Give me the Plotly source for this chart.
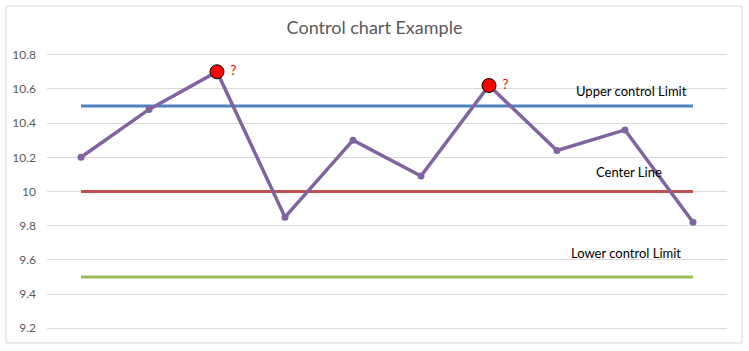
import plotly.graph_objects as go

# ---- data ----
samples = [1, 2, 3, 4, 5, 6, 7, 8, 9, 10]
values = [10.2, 10.48, 10.7, 9.85, 10.3, 10.09, 10.62, 10.24, 10.36, 9.82]
ucl_value = 10.5
center_value = 10.0
lcl_value = 9.5
y_ticks = [9.2, 9.4, 9.6, 9.8, 10.0, 10.2, 10.4, 10.6, 10.8]
y_tick_labels = ["9.2", "9.4", "9.6", "9.8", "10", "10.2", "10.4", "10.6", "10.8"]

x_idx = list(range(len(samples)))
ucl = [ucl_value] * len(samples)
cl = [center_value] * len(samples)
lcl = [lcl_value] * len(samples)
out_x = [i for i, v in zip(x_idx, values) if v > ucl_value or v < lcl_value]
out_y = [v for v in values if v > ucl_value or v < lcl_value]

FONT = "Lato, 'Open Sans', sans-serif"

fig = go.Figure()
fig.add_trace(go.Scatter(x=x_idx, y=ucl, mode="lines",
                         line=dict(color="#4F81BD", width=3), hoverinfo="skip"))
fig.add_trace(go.Scatter(x=x_idx, y=cl, mode="lines",
                         line=dict(color="#C0504D", width=3), hoverinfo="skip"))
fig.add_trace(go.Scatter(x=x_idx, y=lcl, mode="lines",
                         line=dict(color="#9BBB59", width=3), hoverinfo="skip"))
fig.add_trace(go.Scatter(x=x_idx, y=values, mode="lines+markers",
                         line=dict(color="#8064A2", width=3.5),
                         marker=dict(color="#8064A2", size=7)))
fig.add_trace(go.Scatter(x=out_x, y=out_y, mode="markers+text",
                         marker=dict(color="#FF0000", size=14,
                                     line=dict(color="#000000", width=1)),
                         text=[" ?"] * len(out_x), textposition="middle right",
                         textfont=dict(color="#FF0000", size=14, family=FONT)))

fig.add_annotation(x=8.1, y=10.588, text="Upper control Limit", showarrow=False,
                   font=dict(size=13, color="#000000", family=FONT))
fig.add_annotation(x=8.06, y=10.114, text="Center Line", showarrow=False,
                   font=dict(size=13, color="#000000", family=FONT))
fig.add_annotation(x=8.01, y=9.643, text="Lower control Limit", showarrow=False,
                   font=dict(size=13, color="#000000", family=FONT))

# outer chart border
fig.add_shape(type="rect", xref="paper", yref="paper",
              x0=-0.0603, x1=1.0221, y0=-0.0469, y1=1.1697,
              line=dict(color="#D9D9D9", width=1), fillcolor="rgba(0,0,0,0)",
              layer="below")

fig.update_layout(
    width=749, height=351,
    margin=dict(l=47, r=22, t=53, b=21),
    paper_bgcolor="white", plot_bgcolor="white",
    showlegend=False,
    title=dict(text="Control chart Example", x=0.5, xanchor="center",
               y=1 - 28 / 351, yanchor="middle",
               font=dict(size=18, color="#595959", family=FONT)),
    xaxis=dict(range=[-0.5, len(samples) - 0.5], showgrid=False, zeroline=False,
               showticklabels=False, showline=False, ticks=""),
    yaxis=dict(range=[9.19, 10.81], tickvals=y_ticks, ticktext=y_tick_labels,
               showgrid=True, gridcolor="#D9D9D9", gridwidth=1, zeroline=False,
               showline=False, ticks="", ticklabelstandoff=10,
               tickfont=dict(size=12, color="#595959", family=FONT)),
)

fig.write_html("out.html")
